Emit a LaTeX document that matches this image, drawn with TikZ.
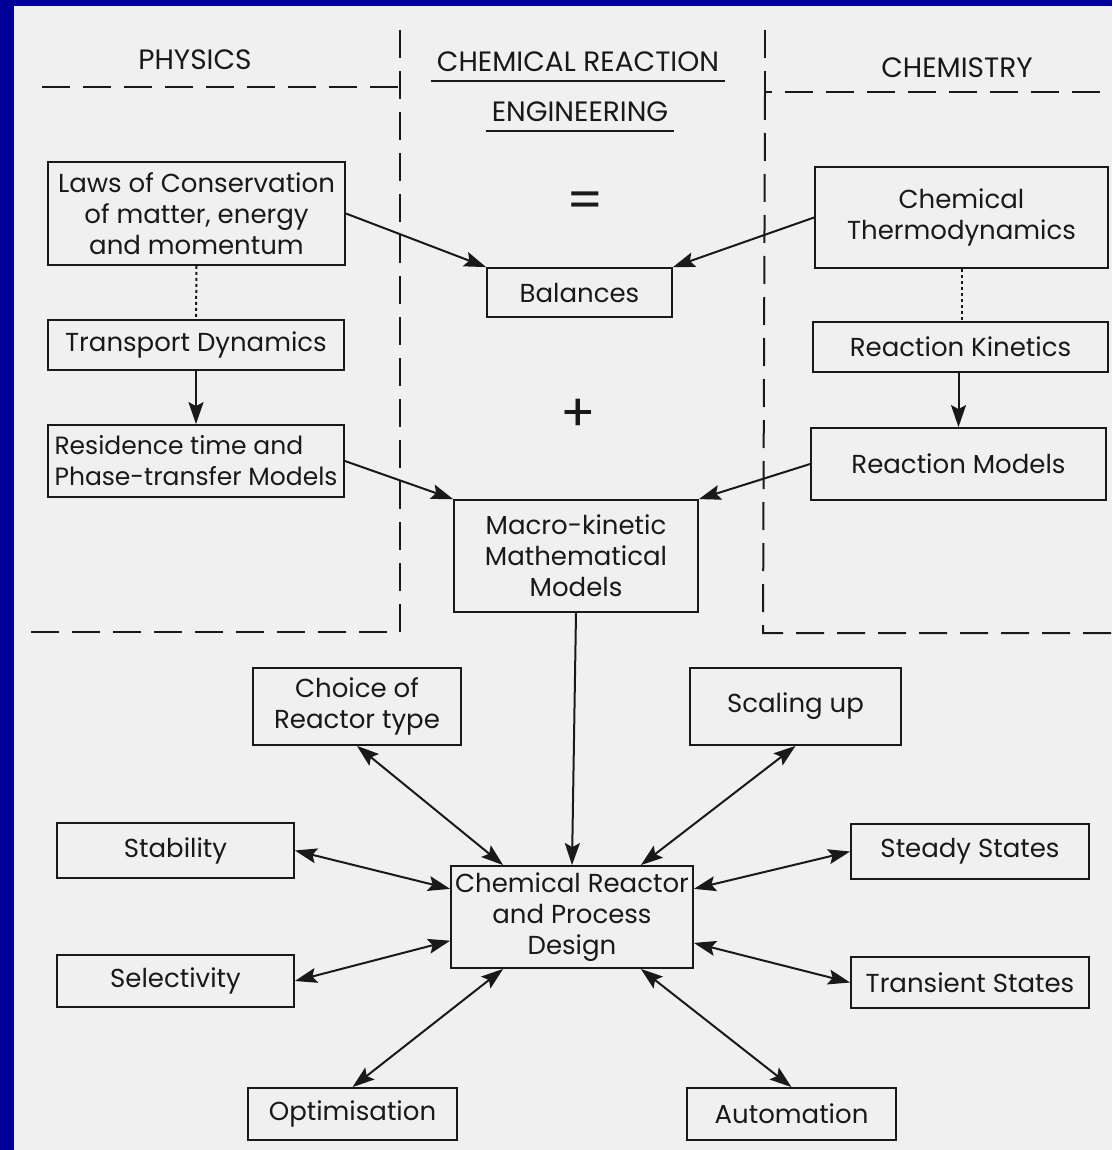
\documentclass[tikz,border=0pt]{standalone}
\usepackage{fontspec}
\setmainfont{Poppins}
\usetikzlibrary{arrows.meta,calc}

\definecolor{slideblue}{RGB}{0,0,150}
\definecolor{paper}{RGB}{240,240,240}
\definecolor{ink}{RGB}{25,25,25}
\newcommand{\boxfont}{\fontsize{26}{31}\selectfont}

\begin{document}
\begin{tikzpicture}[x=1pt, y=-1pt, >={Stealth[length=22pt,width=15pt,inset=4pt]},
  every node/.style={text=ink},
  box/.style={draw=ink, line width=1.8pt, inner sep=1pt, align=center, font=\boxfont},
  heading/.style={font=\fontsize{28}{32}\selectfont, inner xsep=6pt, inner ysep=9pt},
  sign/.style={font=\fontsize{52}{52}\selectfont, inner sep=0pt},
  divider/.style={draw=ink, line width=2pt, dash pattern=on 28pt off 13pt},
  link/.style={draw=ink, line width=2pt},
  dotlink/.style={draw=ink, line width=2pt, dash pattern=on 3pt off 3pt}
  ]

% frame
\useasboundingbox (0,0) rectangle (1112,1150);
\fill[slideblue] (0,0) rectangle (1112,1150);
\fill[paper] (14,6) rectangle (1112,1150);

% headings and dividers
\node[heading] (phys) at (195,60) {PHYSICS};
\node[heading] (cre) at (578,62) {CHEMICAL REACTION};
\node[heading] (eng) at (580,112) {ENGINEERING};
\node[heading] (chem) at (957,68) {CHEMISTRY};
\draw[link] (cre.south west) -- (cre.south east);
\draw[link] (eng.south west) -- (eng.south east);

\draw[divider] (42,87) -- (400,87);
\draw[divider] (400,30) -- (400,632) -- (18,632);
\draw[divider] (765,30) -- (765,92) -- (1112,92);
\draw[divider] (765,92) -- (763,633) -- (1112,633);

% upper part
\node[box, minimum width=297, minimum height=103] (laws) at (196.5,213.5) {Laws of Conservation\\of matter, energy\\and momentum};
\node[box, minimum width=296, minimum height=50] (transport) at (196,345) {Transport Dynamics};
\node[box, minimum width=296, minimum height=72, align=left, font=\fontsize{25}{31}\selectfont] (residence) at (196,461) {Residence time and\\Phase-transfer Models};

\node[sign] (eq) at (585,205) {=};
\node[box, minimum width=185, minimum height=49] (balances) at (579.5,292.5) {Balances};
\node[sign] (plus) at (578,415) {+};
\node[box, minimum width=244, minimum height=112] (macro) at (576,556) {Macro-kinetic\\Mathematical\\Models};

\node[box, minimum width=293, minimum height=101] (thermo) at (961.5,217.5) {Chemical\\Thermodynamics};
\node[box, minimum width=295, minimum height=50] (kinetics) at (960.5,347) {Reaction Kinetics};
\node[box, minimum width=295, minimum height=72] (rmodels) at (958.5,464) {Reaction Models};

\draw[dotlink] (laws.south) -- (transport.north);
\draw[link,->] (transport.south) -- (residence.north);
\draw[dotlink] (thermo.south) -- (thermo.south |- kinetics.north);
\draw[link,->] (kinetics.south -| rmodels.north) -- (rmodels.north);

\draw[link,->] (laws.east) -- (balances.north west);
\draw[link,->] (thermo.west) -- (balances.north east);
\draw[link,->] (residence.east) -- (macro.north west);
\draw[link,->] (rmodels.west) -- (macro.north east);

% lower part
\node[box, minimum width=242, minimum height=102] (reactor) at (572,917) {Chemical Reactor\\and Process\\Design};
\draw[link,->] (macro.south) -- (reactor.north);

\node[box, minimum width=208, minimum height=77] (choice) at (357,706.5) {Choice of\\Reactor type};
\node[box, minimum width=211, minimum height=77] (scaling) at (795.5,706.5) {Scaling up};
\node[box, minimum width=237, minimum height=55] (stability) at (175.5,850.5) {Stability};
\node[box, minimum width=238, minimum height=55] (steady) at (970,851.5) {Steady States};
\node[box, minimum width=237, minimum height=52] (selectivity) at (175.5,981) {Selectivity};
\node[box, minimum width=238, minimum height=51] (transient) at (970,982.5) {Transient States};
\node[box, minimum width=209, minimum height=52] (optim) at (352.5,1114) {Optimisation};
\node[box, minimum width=209, minimum height=52] (autom) at (791.5,1114) {Automation};

\draw[link,<->] (choice.south) -- (reactor.143);
\draw[link,<->] (scaling.south) -- (reactor.37);
\draw[link,<->] (stability.east) -- (reactor.167);
\draw[link,<->] (steady.west) -- (reactor.13);
\draw[link,<->] (selectivity.east) -- (reactor.191);
\draw[link,<->] (transient.west) -- (reactor.-12);
\draw[link,<->] (optim.north) -- (reactor.217);
\draw[link,<->] (autom.north) -- (reactor.-37);

\end{tikzpicture}
\end{document}
